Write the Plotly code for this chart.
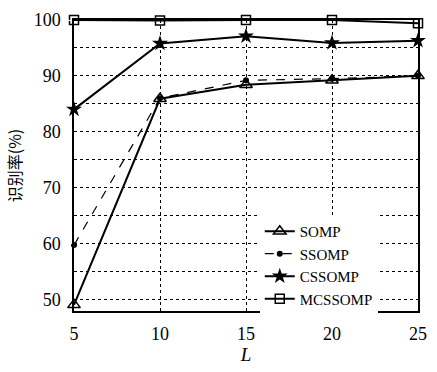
import plotly.graph_objects as go

L = [5, 10, 15, 20, 25]
somp = [49.0, 85.9, 88.4, 89.2, 90.0]
ssomp = [59.7, 86.0, 89.2, 89.5, 90.0]
cssomp = [84.0, 95.8, 97.1, 95.9, 96.3]
mcssomp = [100.0, 99.9, 100.0, 100.0, 99.4]
ytick_vals = [50, 60, 70, 80, 90, 100]
xtick_vals = [5, 10, 15, 20, 25]

FONT = "'Liberation Serif', 'Times New Roman', 'DejaVu Serif', serif"

fig = go.Figure()
fig.add_trace(go.Scatter(x=L, y=somp, name="SOMP", mode="lines+markers",
                         line=dict(color="black", width=2),
                         marker=dict(symbol="triangle-up-open", size=11, color="black", line=dict(width=1.5)),
                         cliponaxis=False))
fig.add_trace(go.Scatter(x=L, y=ssomp, name="SSOMP", mode="lines+markers",
                         line=dict(color="black", width=1.2, dash="dash"),
                         marker=dict(symbol="circle", size=6, color="black"),
                         cliponaxis=False))
fig.add_trace(go.Scatter(x=L, y=cssomp, name="CSSOMP", mode="lines+markers",
                         line=dict(color="black", width=2),
                         marker=dict(symbol="star", size=12, color="black"),
                         cliponaxis=False))
fig.add_trace(go.Scatter(x=L, y=mcssomp, name="MCSSOMP", mode="lines+markers",
                         line=dict(color="black", width=2),
                         marker=dict(symbol="square-open", size=9, color="black", line=dict(width=1.5)),
                         cliponaxis=False))

fig.update_layout(
    width=437, height=372,
    margin=dict(l=74, r=10, t=15, b=55),
    paper_bgcolor="white", plot_bgcolor="white",
    font=dict(family=FONT, size=18, color="black"),
    showlegend=True,
    legend=dict(x=0.54, y=0.33, xanchor="left", yanchor="top",
                bgcolor="white", borderwidth=0,
                font=dict(family=FONT, size=15),
                tracegroupgap=0, itemwidth=30),
)
fig.update_xaxes(range=[5, 25], tickvals=xtick_vals, showline=True, linecolor="black",
                 linewidth=1.5, mirror=True, showgrid=True, gridcolor="black",
                 griddash="dot", gridwidth=1, zeroline=False, ticks="outside", ticklen=6, tickcolor="white",
                 title=dict(text="<i>L</i>", font=dict(family=FONT, size=19), standoff=4))
fig.update_yaxes(range=[47.9, 100], tickvals=ytick_vals, showline=True, linecolor="black",
                 linewidth=1.5, mirror=True, showgrid=True, gridcolor="black",
                 griddash="dot", gridwidth=1, zeroline=False, ticks="outside", ticklen=8, tickcolor="white",
                 minor=dict(tickvals=[55, 65, 75, 85, 95], showgrid=True, gridcolor="black",
                            griddash="dot", gridwidth=1),
                 title=dict(text="识别率(%)", font=dict(family="'Noto Sans CJK SC', sans-serif", size=16), standoff=8))

fig.write_html("out.html", config={"displayModeBar": False},
               post_script="document.body.style.margin='0';")
